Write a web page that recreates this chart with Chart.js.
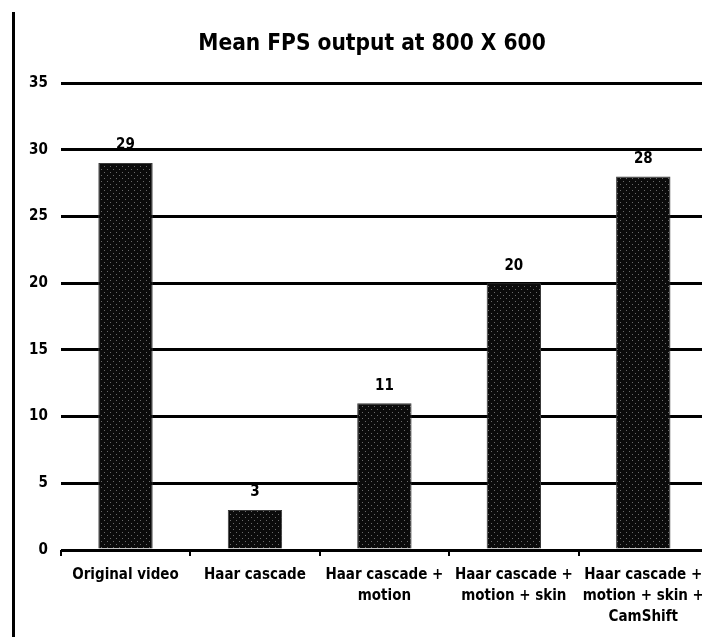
<!DOCTYPE html>
<html>
<head>
<meta charset="utf-8">
<script src="https://cdn.jsdelivr.net/npm/chart.js@4/dist/chart.umd.min.js"></script>
<style>
  html, body { margin: 0; padding: 0; background: #fff; overflow: hidden; width: 702px; height: 637px; }
  #frame { position: absolute; left: 12px; top: 12px; width: 3px; height: 625px; background: #000; }
  #c { position: absolute; left: 16px; top: 0; }
</style>
</head>
<body>
<div id="frame"></div>
<canvas id="c" width="712" height="637"></canvas>
<script>
const categories = [
  ["Original video"],
  ["Haar cascade"],
  ["Haar cascade +", "motion"],
  ["Haar cascade +", "motion + skin"],
  ["Haar cascade +", "motion + skin +", "CamShift"]
];
const fpsValues = [29, 3, 11, 20, 28];
const yTicks = [0, 5, 10, 15, 20, 25, 30, 35];
const chartTitle = "Mean FPS output at 800 X 600";

const FONT = "'Liberation Sans Narrow', 'DejaVu Sans Condensed', 'Liberation Sans', sans-serif";

function makePattern() {
  const p = document.createElement('canvas');
  p.width = 6; p.height = 6;
  const g = p.getContext('2d');
  g.fillStyle = '#0b0b0b';
  g.fillRect(0, 0, 6, 6);
  g.fillStyle = '#6a6a6a';
  g.fillRect(1, 1, 1, 1);
  g.fillRect(4, 4, 1, 1);
  return g.createPattern(p, 'repeat');
}

const valueLabels = {
  id: 'valueLabels',
  afterDatasetsDraw(chart) {
    const ctx = chart.ctx;
    const meta = chart.getDatasetMeta(0);
    ctx.save();
    ctx.fillStyle = '#000';
    ctx.font = 'bold 15px ' + FONT;
    ctx.textAlign = 'center';
    ctx.textBaseline = 'bottom';
    meta.data.forEach((bar, i) => {
      ctx.fillText(String(fpsValues[i]), bar.x, bar.y - 10);
    });
    ctx.restore();
  }
};

const centeredTitle = {
  id: 'centeredTitle',
  afterDraw(chart) {
    const ctx = chart.ctx;
    ctx.save();
    ctx.fillStyle = '#000';
    ctx.font = 'bold 22.5px ' + FONT;
    ctx.textAlign = 'center';
    ctx.textBaseline = 'middle';
    ctx.fillText(chartTitle, chart.width / 2, 44);
    ctx.restore();
  }
};

new Chart(document.getElementById('c'), {
  type: 'bar',
  data: {
    labels: categories,
    datasets: [{
      data: fpsValues,
      backgroundColor: makePattern(),
      borderColor: '#3a3a3a',
      borderWidth: 1,
      barPercentage: 0.42,
      categoryPercentage: 1.0
    }]
  },
  options: {
    responsive: false,
    animation: false,
    layout: { padding: { left: 0, right: 20, top: 83, bottom: 0 } },
    plugins: {
      legend: { display: false },
      tooltip: { enabled: false },
      title: { display: false }
    },
    scales: {
      y: {
        min: 0,
        max: 35,
        afterBuildTicks(scale) { scale.ticks = yTicks.map(v => ({ value: v })); },
        border: { display: false },
        grid: { color: '#000', lineWidth: 3, drawTicks: false },
        ticks: {
          color: '#000',
          padding: 13,
          font: { family: FONT, size: 15, weight: 'bold' }
        }
      },
      x: {
        border: { display: false },
        grid: { display: true, offset: true, drawOnChartArea: false, drawTicks: true, tickLength: 6, color: '#000', lineWidth: 2 },
        ticks: {
          color: '#000',
          padding: 9,
          maxRotation: 0,
          autoSkip: false,
          font: { family: FONT, size: 15, weight: 'bold', lineHeight: 1.4 }
        }
      }
    }
  },
  plugins: [valueLabels, centeredTitle]
});
</script>
</body>
</html>
